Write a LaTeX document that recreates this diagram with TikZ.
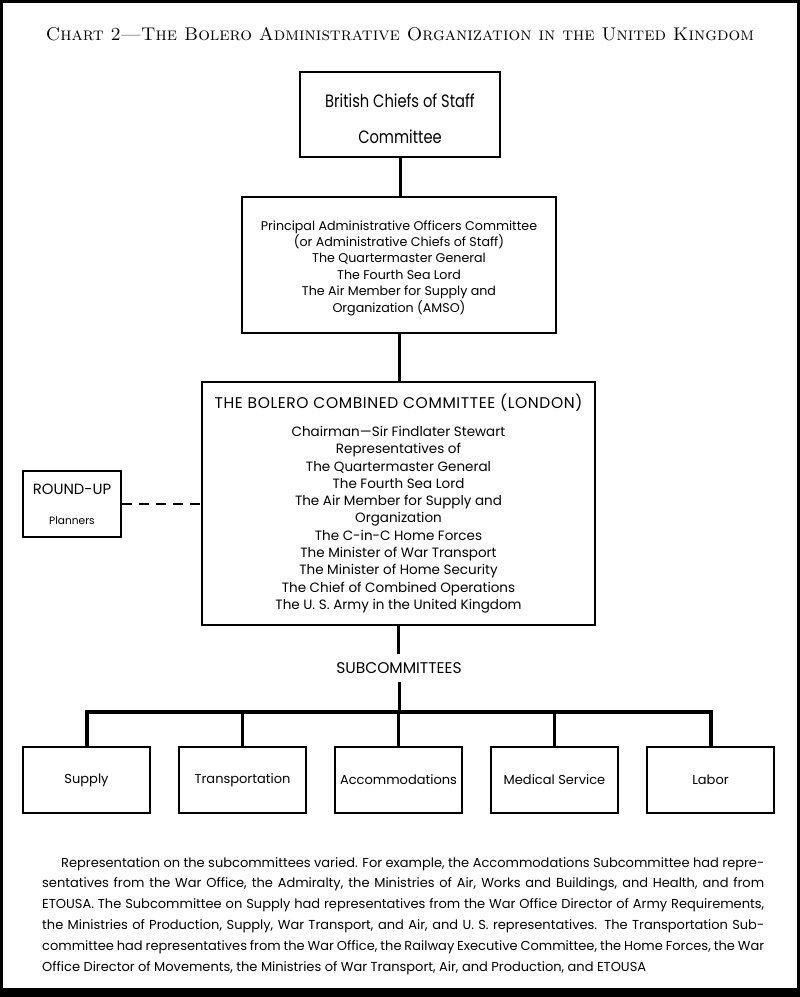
\documentclass[tikz,border=0pt]{standalone}
\usepackage{fontspec}
\usepackage{graphicx}
\newfontfamily\fut{Poppins}[FakeStretch=0.82]
\newfontfamily\futn{Poppins}
\newfontfamily\futls{Poppins}[LetterSpace=4]
\begin{document}
\begin{tikzpicture}[x=1pt,y=-1pt,
  box/.style={draw=black, line width=1.3pt, inner sep=0pt, align=center, fill=white},
  conn/.style={line width=3pt},
  busline/.style={line width=4pt},
  dashconn/.style={line width=1.6pt, dash pattern=on 10pt off 7pt},
  subbox/.style={box, minimum width=127, minimum height=66, font=\futn\fontsize{13}{16}\selectfont},
  ]
\useasboundingbox (0,0) rectangle (800,997);
\fill[black] (0,0) rectangle (800,997);
\fill[white] (3,3) rectangle (797,988);

\node (title) at (400,34) {\resizebox{708pt}{!}{\textsc{Chart 2—The Bolero Administrative Organization in the United Kingdom}}};

\node[box, minimum width=200, minimum height=85, font=\fut\fontsize{17.9}{21}\selectfont] (b1) at (400,114.5)
  {\rule{0pt}{22.4pt}British Chiefs of Staff\\[15pt]Committee};

\node[box, minimum width=314, minimum height=136, font=\futn\fontsize{12.66}{16.4}\selectfont] (b2) at (399,265)
  {\rule{0pt}{15.5pt}Principal Administrative Officers Committee\\(or Administrative Chiefs of Staff)\\The Quartermaster General\\The Fourth Sea Lord\\The Air Member for Supply and\\Organization (AMSO)};

\node[box, minimum width=393, minimum height=243, font=\futn\fontsize{13.5}{17.3}\selectfont] (b3) at (398.5,503.5)
  {{\futls\fontsize{15.5}{17.3}\selectfont THE BOLERO COMBINED COMMITTEE (LONDON)}\\[10.7pt]
   Chairman—Sir Findlater Stewart\\Representatives of\\The Quartermaster General\\The Fourth Sea Lord\\The Air Member for Supply and\\Organization\\The C-in-C Home Forces\\The Minister of War Transport\\The Minister of Home Security\\The Chief of Combined Operations\\The U. S. Army in the United Kingdom};

\node[box, minimum width=98, minimum height=66, font=\futn\fontsize{14.8}{18}\selectfont] (ru) at (72,504)
  {ROUND-UP\\[12pt]{\fontsize{10.6}{18}\selectfont Planners}};

\node[inner sep=0pt, minimum height=28, font=\futn\fontsize{15.5}{16}\selectfont] (sub) at (399,668) {SUBCOMMITTEES};

\node[subbox] (s1) at (86.5,780) {Supply};
\node[subbox] (s2) at (242.5,780) {Transportation};
\node[subbox] (s3) at (398.5,780) {Accommodations};
\node[subbox] (s4) at (554.5,780) {Medical Service};
\node[subbox] (s5) at (710.5,780) {Labor};

\coordinate (bus) at (399,712);

\draw[conn] (b1.south) -- (b1.south |- b2.north);
\draw[conn] (b2.south) -- (b2.south |- b3.north);
\draw[conn] (b3.south) -- (b3.south |- sub.north);
\draw[conn] (sub.south) -- (sub.south |- bus);
\draw[busline] (s1.north) |- (s5.north |- bus) -- (s5.north);
\draw[conn] (s2.north |- bus) -- (s2.north);
\draw[conn] (s3.north |- bus) -- (s3.north);
\draw[conn] (s4.north |- bus) -- (s4.north);
\draw[dashconn] (ru.east) -- (ru.east -| b3.west);

\node[anchor=north west, inner sep=0pt, align=left, font=\futn\fontsize{13}{20.8}\selectfont] (para) at (42,857)
 {\hbox to 722pt{\hspace*{19pt}Representation on the subcommittees varied.  For example, the Accommodations Subcommittee had repre-}\\
  \hbox to 722pt{sentatives from the War Office, the Admiralty, the Ministries of Air, Works and Buildings, and Health, and from}\\
  \hbox to 722pt{ETOUSA.  The Subcommittee on Supply had representatives from the War Office Director of Army Requirements,}\\
  \hbox to 722pt{the Ministries of Production, Supply, War Transport, and Air, and U. S. representatives.  The Transportation Sub-}\\
  \hbox to 722pt{committee had representatives from the War Office, the Railway Executive Committee, the Home Forces, the War}\\
  \hbox{Office Director of Movements, the Ministries of War Transport, Air, and Production, and ETOUSA}};
\end{tikzpicture}
\end{document}
